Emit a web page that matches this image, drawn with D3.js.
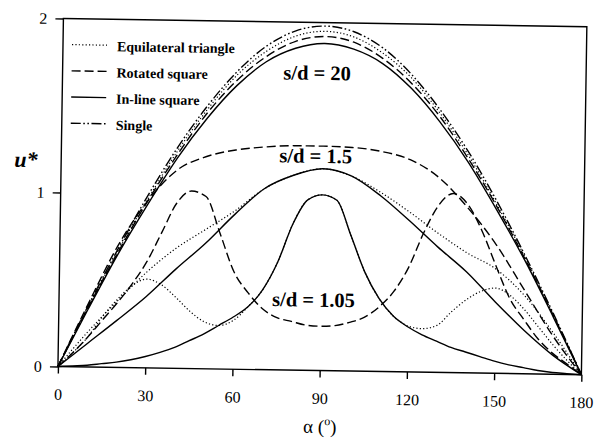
<!DOCTYPE html>
<html>
<head>
<meta charset="utf-8">
<script src="https://cdn.jsdelivr.net/npm/d3@7"></script>
<style>
body{margin:0;background:#fff;}
</style>
</head>
<body>
<svg id="vis"></svg>
<script>
// angle grids (deg)
var alpha10 = [0,10,20,30,40,50,60,70,80,90,100,110,120,130,140,150,160,170,180];
var alpha5 = [0,5,10,15,20,25,30,35,40,45,50,55,60,65,70,75,80,85,90,95,100,105,110,115,120,125,130,135,140,145,150,155,160,165,170,175,180];

// s/d = 20
var single20   = [0,0.35,0.68,0.99,1.27,1.51,1.71,1.86,1.95,1.98,1.95,1.86,1.71,1.51,1.27,0.99,0.68,0.35,0];
var triangle20 = [0,0.34,0.67,0.97,1.25,1.49,1.69,1.83,1.92,1.95,1.92,1.83,1.69,1.49,1.25,0.97,0.67,0.34,0];
var rotated20  = [0,0.34,0.66,0.96,1.23,1.47,1.66,1.80,1.89,1.92,1.89,1.80,1.66,1.47,1.23,0.96,0.66,0.34,0];
var inline20   = [0,0.33,0.65,0.94,1.21,1.44,1.63,1.77,1.85,1.88,1.85,1.77,1.63,1.44,1.21,0.94,0.65,0.33,0];

// s/d = 1.5
var triangle15 = [0,0.20,0.38,0.55,0.69,0.80,0.91,1.04,1.12,1.16,1.12,1.03,0.92,0.80,0.69,0.60,0.45,0.24,0];
var rotated15  = [0,0.36,0.70,0.96,1.14,1.22,1.26,1.28,1.29,1.29,1.285,1.265,1.22,1.12,0.95,0.74,0.48,0.22,0];
var inline15   = [0,0.135,0.27,0.41,0.57,0.72,0.89,1.04,1.12,1.16,1.12,1.01,0.87,0.72,0.58,0.41,0.25,0.11,0];

// s/d = 1.05
var triangle105 = [0,0.08,0.17,0.29,0.39,0.47,0.51,0.48,0.41,0.33,0.27,0.25,0.28,0.36,0.46,0.62,0.84,0.98,1.01,0.98,0.78,0.57,0.42,0.32,0.265,0.25,0.27,0.35,0.42,0.47,0.49,0.45,0.37,0.27,0.17,0.08,0];
var rotated105  = [0,0.08,0.17,0.27,0.37,0.48,0.61,0.78,0.95,1.02,0.99,0.78,0.56,0.44,0.35,0.30,0.28,0.26,0.255,0.26,0.28,0.31,0.37,0.46,0.60,0.80,0.96,1.03,0.97,0.82,0.62,0.43,0.31,0.20,0.12,0.06,0];
var inline105   = [0,0.005,0.01,0.02,0.03,0.045,0.065,0.09,0.12,0.16,0.20,0.25,0.30,0.36,0.46,0.62,0.84,0.98,1.01,0.98,0.78,0.57,0.42,0.32,0.26,0.215,0.18,0.145,0.12,0.095,0.07,0.05,0.035,0.02,0.01,0.005,0];

var legendLabels = ["Equilateral triangle","Rotated square","In-line square","Single"];
var legendKinds = ["triangle","rotated","inline","single"];
var xTicks = [0,30,60,90,120,150,180];
var yTicks = [0,1,2];
var sdLabels = ["s/d = 20","s/d = 1.5","s/d = 1.05"];
var sdLabelY = [1.67,1.193,0.367];

var serif = "'Liberation Serif', 'Times New Roman', 'DejaVu Serif', serif";

// line styles per arrangement
var dashFor = {
    triangle: "1.2,2.2",
    rotated: "9,4",
    inline: null,
    single: "10,2.5,1.6,2.5,1.6,2.5"
};

var curves = [
    {kind:"single", a:alpha10, u:single20},
    {kind:"triangle", a:alpha10, u:triangle20},
    {kind:"rotated", a:alpha10, u:rotated20},
    {kind:"inline", a:alpha10, u:inline20},
    {kind:"triangle", a:alpha10, u:triangle15},
    {kind:"rotated", a:alpha10, u:rotated15},
    {kind:"inline", a:alpha10, u:inline15},
    {kind:"triangle", a:alpha5, u:triangle105},
    {kind:"rotated", a:alpha5, u:rotated105},
    {kind:"inline", a:alpha5, u:inline105}
];

var margin = {top: 22.6, left: 60.65},
    width = 523.5,
    height = 348;

var svg = d3.select("#vis")
    .attr("width", 602)
    .attr("height", 440)
    .style("font-family", serif);

// the scan is a bit tilted, so tilt everything the same way
var g = svg.append("g")
    .attr("transform", "rotate(0.9,322.4,196.6) translate(" + margin.left + "," + margin.top + ")");

var x = d3.scaleLinear().domain([0,180]).range([0,width]);
var y = d3.scaleLinear().domain([0,2]).range([height,0]);

// x axis
var xa = g.append("g")
    .attr("transform", "translate(0," + height + ")")
    .call(d3.axisBottom(x).tickValues(xTicks).tickSize(7).tickSizeOuter(0).tickPadding(15));
xa.select(".domain").remove();

// y axis
var ya = g.append("g")
    .call(d3.axisLeft(y).tickValues(yTicks).tickSize(8).tickSizeOuter(0).tickPadding(8).tickFormat(d3.format("d")));
ya.select(".domain").remove();

g.selectAll(".tick line").attr("stroke", "#000").attr("stroke-width", 1.4);
g.selectAll(".tick text")
    .attr("fill", "#000")
    .style("font-size", "16px");

// frame
g.append("rect")
    .attr("x", 0).attr("y", 0)
    .attr("width", width).attr("height", height)
    .attr("fill", "none")
    .attr("stroke", "#000")
    .attr("stroke-width", 1.4);

var line = d3.line()
    .x(function(d){ return x(d[0]); })
    .y(function(d){ return y(d[1]); })
    .curve(d3.curveMonotoneX);

curves.forEach(function(c){
    var pts = c.a.map(function(a, i){ return [a, c.u[i]]; });
    g.append("path")
        .datum(pts)
        .attr("d", line)
        .attr("fill", "none")
        .attr("stroke", "#000")
        .attr("stroke-width", c.kind == "triangle" ? 1.2 : 1.4)
        .attr("stroke-dasharray", dashFor[c.kind]);
});

// legend
var leg = g.append("g").attr("transform", "translate(9,26)");
legendLabels.forEach(function(lbl, i){
    var ly = i * 26.2;
    leg.append("line")
        .attr("x1", 0).attr("x2", 35)
        .attr("y1", ly).attr("y2", ly)
        .attr("stroke", "#000")
        .attr("stroke-width", legendKinds[i] == "triangle" ? 1.2 : 1.4)
        .attr("stroke-dasharray", dashFor[legendKinds[i]]);
    leg.append("text")
        .attr("x", 45).attr("y", ly + 6)
        .style("font-size", "14px")
        .style("font-weight", "bold")
        .text(lbl);
});

// s/d annotations
sdLabels.forEach(function(t, i){
    g.append("text")
        .attr("x", x(87.5))
        .attr("y", y(sdLabelY[i]))
        .attr("text-anchor", "middle")
        .style("font-size", "20.5px")
        .style("font-weight", "bold")
        .text(t);
});

// axis titles
g.append("text")
    .attr("x", -35.2)
    .attr("y", 148.9)
    .attr("text-anchor", "middle")
    .style("font-size", "22px")
    .style("font-weight", "bold")
    .style("font-style", "italic")
    .text("u*");

var xt = g.append("text")
    .attr("x", width / 2 + 1)
    .attr("y", 410.4)
    .attr("text-anchor", "middle")
    .style("font-size", "19px");
xt.append("tspan").text("\u03b1 (");
xt.append("tspan").attr("dy", -8).style("font-size", "12px").text("o");
xt.append("tspan").attr("dy", 8).text(")");

// make sure every label is in the serif face (axis sets its own family)
svg.selectAll("text").style("font-family", serif);
</script>
</body>
</html>
